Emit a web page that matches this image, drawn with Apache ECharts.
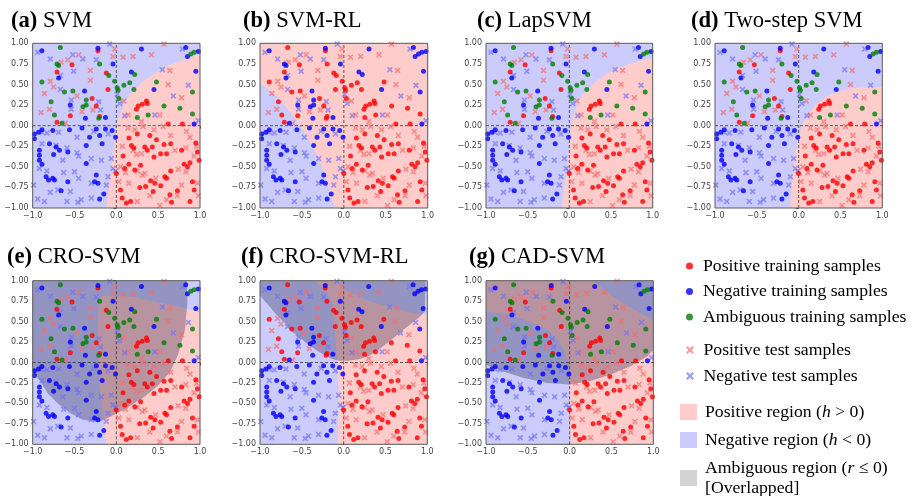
<!DOCTYPE html>
<html>
<head>
<meta charset="utf-8">
<script src="https://cdn.jsdelivr.net/npm/echarts@6/dist/echarts.min.js"></script>
<style>
  html, body { margin: 0; padding: 0; background: #fff; }
  #chart { width: 918px; height: 496px; }
</style>
</head>
<body>
<div id="chart"></div>
<script>
// ---- data (same sample set in every panel) ----
const panelTags = ['(a)', '(b)', '(c)', '(d)', '(e)', '(f)', '(g)'];
const panelNames = ['SVM', 'SVM-RL', 'LapSVM', 'Two-step SVM', 'CRO-SVM', 'CRO-SVM-RL', 'CAD-SVM'];

const posTrain = [
  [-0.22, 0.91], [-0.53, 0.74], [-0.71, 0.65], [-0.12, 0.64], [-0.10, 0.44], [-0.29, 0.33],
  [-0.24, 0.24], [-0.55, 0.12], [-0.20, 0.11], [0.26, 0.24], [0.31, 0.26], [0.36, 0.30], [0.37, 0.27],
  [0.24, 0.20], [-0.71, 0.04], [0.79, 0.02], [0.62, 0.02],
  [0.18, -0.24], [0.21, -0.27], [0.34, -0.26], [0.37, -0.30], [0.43, -0.26], [0.48, -0.17],
  [0.57, -0.23], [0.60, -0.34], [0.65, -0.22], [0.78, -0.30], [0.95, -0.21], [0.97, -0.32],
  [0.88, -0.45], [0.45, -0.38], [0.53, -0.34], [0.08, -0.37], [0.00, -0.58], [0.10, -0.52],
  [0.15, -0.47], [0.22, -0.54], [0.29, -0.48], [0.41, -0.67], [0.46, -0.70], [0.58, -0.62],
  [0.60, -0.64], [0.65, -0.55], [0.81, -0.47], [0.85, -0.50], [0.99, -0.42], [0.93, -0.78],
  [0.88, -0.92], [0.07, -0.88], [0.12, -0.94], [0.17, -0.92], [0.35, -0.74], [0.44, -0.80],
  [0.53, -0.73], [0.64, -0.84], [0.73, -0.79], [0.28, -0.75], [0.05, -0.78], [0.66, -0.93],
  [0.91, -0.68], [0.25, -0.10], [0.15, -0.15], [0.40, -0.12]
];
const negTrain = [
  [-0.89, 0.91], [-0.22, 0.94], [0.30, 0.93], [0.83, 0.95], [0.85, 0.84], [0.98, 0.90],
  [-0.04, 0.75], [-0.69, 0.58], [0.18, 0.65], [0.45, 0.44], [0.95, 0.66], [-0.38, 0.42],
  [-0.55, 0.25], [-0.37, 0.09], [-0.13, 0.10], [0.93, 0.02],
  [-0.98, -0.10], [-0.98, -0.16], [-0.93, -0.08], [-0.89, -0.05], [-0.76, -0.06], [-0.80, -0.22],
  [-0.92, -0.30], [-0.92, -0.36], [-0.92, -0.42], [-0.89, -0.47], [-0.72, -0.26], [-0.68, -0.30],
  [-0.75, -0.35], [-0.58, -0.32], [-0.41, -0.03], [-0.32, -0.14], [-0.36, -0.24], [-0.20, -0.12],
  [-0.17, -0.22], [-0.13, -0.04], [-0.36, -0.46], [-0.84, -0.62], [-0.81, -0.66], [-0.76, -0.64],
  [-0.74, -0.66], [-0.66, -0.79], [-0.58, -0.68], [-0.24, -0.60], [-0.26, -0.68], [-0.22, -0.70],
  [-0.15, -0.83], [-0.20, -0.89], [-0.01, -0.14], [-0.05, -0.06], [-0.56, -0.05], [-0.24, -0.04]
];
const ambTrain = [
  [-0.67, 0.95], [-0.71, 0.75], [-0.69, 0.73], [-0.20, 0.75], [-0.89, 0.53],
  [-0.62, 0.41], [-0.52, 0.42], [-0.09, 0.61], [-0.02, 0.54], [0.01, 0.46],
  [0.02, 0.43], [0.09, 0.49], [0.22, 0.62], [0.16, 0.52], [0.21, 0.44],
  [0.48, 0.53], [0.91, 0.41], [-0.78, 0.29], [-0.74, 0.13], [-0.40, 0.23],
  [-0.36, 0.25], [-0.36, 0.31], [-0.21, 0.09], [0.38, 0.13], [0.25, 0.10],
  [0.57, 0.24], [0.76, 0.21], [0.91, 0.14], [-0.65, 0.03], [0.89, 0.87],
  [0.93, 0.89], [0.03, 0.33]
];
// labels given to the ambiguous samples by the relabelling (RL) variants: 1 = positive
const ambRelabel = [1, 0, 0, 1, 1, 1, 1, 1, 1, 1, 1, 1, 0, 1, 1, 1, 0, 1, 1, 0, 0, 0, 1, 1, 1, 1, 1, 1, 0, 0, 0, 1];
const posTest = [
  [-0.02, 0.93], [0.42, 0.86], [0.57, 0.99], [-0.66, 0.77], [-0.58, 0.80], [-0.04, 0.84],
  [0.08, 0.83], [0.20, 0.84], [-0.79, 0.54], [-0.75, 0.47], [-0.31, 0.67], [-0.31, 0.55],
  [0.64, 0.67], [0.78, 0.34], [-0.86, 0.39], [-0.80, 0.20], [-0.41, 0.17], [0.09, 0.30],
  [0.14, 0.13], [0.52, 0.13], [-0.61, 0.03], [-0.47, 0.36], [-0.90, 0.16], [-0.45, 0.86],
  [0.62, 0.50], [0.30, 0.05], [-0.28, 0.19],
  [0.14, -0.03], [0.22, -0.05], [0.32, -0.01], [0.45, -0.05], [0.56, -0.01], [0.84, -0.07],
  [0.07, -0.25], [0.20, -0.30], [0.24, -0.35], [0.30, -0.34], [0.70, -0.30], [0.83, -0.27],
  [0.96, -0.25], [0.93, -0.37], [0.05, -0.50], [0.11, -0.57], [0.25, -0.55], [0.31, -0.60],
  [0.47, -0.64], [0.74, -0.53], [0.83, -0.56], [0.78, -0.72], [0.73, -0.85], [0.97, -0.70],
  [0.52, -0.97], [0.25, -0.92], [0.34, -0.58], [0.40, -0.85], [0.60, -0.90], [0.03, -0.68],
  [0.15, -0.70], [0.88, -0.14], [0.65, -0.12], [0.98, -0.85]
];
const negTest = [
  [-0.94, 0.89], [-0.08, 0.99], [0.79, 0.93], [-0.79, 0.81], [-0.52, 0.86], [-0.40, 0.81],
  [-0.24, 0.80], [-0.67, 0.61], [-0.51, 0.66], [-0.67, 0.44], [0.55, 0.68], [0.86, 0.49],
  [0.68, 0.36], [-0.54, 0.31], [-0.54, 0.20], [-0.21, 0.29], [-0.19, 0.19], [0.04, 0.27],
  [0.10, 0.12], [0.46, 0.13], [0.98, 0.06], [0.01, 0.38],
  [-0.89, -0.08], [-0.83, -0.09], [-0.69, -0.08], [-0.47, -0.14], [-0.27, -0.07],
  [-0.10, -0.10], [-0.89, -0.22], [-0.72, -0.24], [-0.59, -0.27], [-0.47, -0.33], [-0.45, -0.37],
  [-0.30, -0.40], [-0.18, -0.42], [-0.06, -0.40], [-0.92, -0.52], [-0.83, -0.55], [-0.63, -0.57],
  [-0.50, -0.56], [-0.45, -0.64], [-0.30, -0.70], [-0.12, -0.72], [-0.04, -0.52], [-0.01, -0.55],
  [-0.99, -0.72], [-0.79, -0.81], [-0.70, -0.78], [-0.94, -0.89], [-0.86, -0.92], [-0.59, -0.92],
  [-0.46, -0.93], [-0.42, -0.90], [-0.30, -0.88], [-0.10, -0.62], [-0.64, -0.42], [-0.55, -0.80]
];

// decision regions (boundary vertices in data units)
const fullSquare = [[-1, -1], [1, -1], [1, 1], [-1, 1]];
const posRegionA = [[-0.12, -1], [-0.09, -0.75], [-0.06, -0.5], [-0.03, -0.25], [0, 0], [0.05, 0.15], [0.12, 0.31],
  [0.2, 0.42], [0.3, 0.52], [0.45, 0.63], [0.6, 0.72], [0.72, 0.77], [0.85, 0.82], [1, 0.87], [1, -1]];
const posRegionB = [[-1, 1], [-1, 0.52], [-0.9, 0.44], [-0.8, 0.35], [-0.7, 0.24], [-0.6, 0.11], [-0.5, -0.03],
  [-0.42, -0.17], [-0.35, -0.3], [-0.28, -0.45], [-0.22, -0.6], [-0.16, -0.82], [-0.11, -1], [1, -1], [1, 1]];
const posRegionC = [[-0.09, -1], [-0.06, -0.75], [-0.03, -0.5], [0, -0.25], [0.02, 0], [0.07, 0.19], [0.12, 0.31],
  [0.21, 0.43], [0.35, 0.56], [0.47, 0.64], [0.65, 0.72], [0.81, 0.78], [1, 0.82], [1, -1]];
const posRegionD = [[-0.10, -1], [-0.08, -0.7], [-0.05, -0.37], [0, -0.17], [0.04, 0.01], [0.12, 0.15], [0.22, 0.27],
  [0.33, 0.35], [0.45, 0.41], [0.61, 0.45], [0.8, 0.465], [1, 0.47], [1, -1]];
const posRegionE = [[-0.12, -1], [-0.15, -0.72], [-0.2, -0.27], [-0.22, 0.13], [-0.22, 0.54], [-0.21, 0.74],
  [-0.17, 0.81], [-0.04, 0.82], [0.2, 0.8], [0.48, 0.74], [0.72, 0.69], [1, 0.61], [1, -1]];
const posRegionF = [[-0.07, -1], [-0.06, -0.27], [-0.08, 0.01], [-0.1, 0.34], [-0.12, 0.54], [-0.14, 0.74],
  [-0.2, 0.86], [-0.3, 0.95], [-0.36, 1], [-0.04, 1], [-0.02, 0.95], [0.02, 0.89], [0.18, 0.8], [0.33, 0.74],
  [0.57, 0.68], [0.81, 0.61], [1, 0.58], [1, -1]];
const posRegionG = [[-1, 1], [0.28, 1], [0.4, 0.9], [0.56, 0.78], [0.72, 0.68], [0.88, 0.58], [1, 0.53], [1, -1],
  [0.01, -1], [0, -0.1], [-0.02, 0.01], [-0.06, 0.13], [-0.12, 0.25], [-0.24, 0.38], [-0.43, 0.48],
  [-0.71, 0.58], [-1, 0.62]];
const ambRegionE = [[-1, 1], [0.84, 1], [0.85, 0.74], [0.82, 0.4], [0.74, 0.1], [0.64, -0.12], [0.5, -0.28],
  [0.32, -0.43], [0.12, -0.56], [-0.1, -0.68], [-0.22, -0.73], [-0.4, -0.7], [-0.55, -0.62], [-0.7, -0.5],
  [-0.82, -0.38], [-0.91, -0.23], [-1, -0.11]];
const ambRegionF = [[-1, 1], [-1, 0.82], [-0.9, 0.7], [-0.8, 0.58], [-0.7, 0.48], [-0.62, 0.38], [-0.45, 0.24],
  [-0.3, 0.13], [-0.15, 0.05], [-0.06, 0.02], [0.05, 0.02], [0.18, 0.04], [0.3, 0.08], [0.41, 0.15],
  [0.55, 0.26], [0.69, 0.38], [0.8, 0.47], [0.89, 0.54], [0.97, 0.62], [0.98, 1]];
const ambRegionG = [[-1, 1], [-1, -0.03], [-0.9, -0.07], [-0.79, -0.11], [-0.55, -0.19], [-0.27, -0.25],
  [0, -0.27], [0.24, -0.23], [0.48, -0.15], [0.72, -0.05], [0.92, 0.07], [1, 0.15], [1, 1]];

const posRegions = [posRegionA, posRegionB, posRegionC, posRegionD, posRegionE, posRegionF, posRegionG];
const ambRegions = [null, null, null, null, ambRegionE, ambRegionF, ambRegionG];
const relabelled = [false, true, false, false, false, true, false];

// ---- layout ----
const gridRects = [
  [32.7, 43.3, 167.3, 164.7], [260, 43.3, 167.7, 164.7], [486, 43.3, 166.7, 164.7], [715, 43.3, 167.3, 164.7],
  [32.7, 280.7, 167.3, 163.6], [260, 280.7, 167.3, 163.6], [486, 280.7, 167.3, 163.6]
];
const titlePos = [[11, 10], [243, 10], [477, 10], [691, 10], [7, 246], [241, 246], [469, 246]];

const C = {
  negRegion: '#ccccfc', posRegion: '#ffcccc', overlap: 'rgba(20,20,60,0.3)', ambLegend: '#d3d3d3',
  pos: '#ff0000', neg: '#0000ff', amb: '#008000', posTest: 'rgba(242,110,110,0.85)', negTest: 'rgba(115,115,242,0.85)'
};
const xMark = 'path://M0,2L2,0L5,3L8,0L10,2L7,5L10,8L8,10L5,7L2,10L0,8L3,5Z';
const serif = 'Liberation Serif';
const sans = 'DejaVu Sans';
const titleSize = 22.6;
const legendSize = 17.7;

const NAMES = {
  pos: 'Positive training samples', neg: 'Negative training samples', amb: 'Ambiguous training samples',
  posT: 'Positive test samples', negT: 'Negative test samples',
  posR: 'Positive region', negR: 'Negative region', ambR: 'Ambiguous region'
};

function regionSeries(i, poly, color, name, z) {
  return {
    type: 'custom', name: name, xAxisIndex: i, yAxisIndex: i, z: z, silent: true,
    itemStyle: { color: color },
    data: poly,
    renderItem: function (params, api) {
      if (params.dataIndex !== 0) return null;
      return {
        type: 'polygon',
        shape: { points: poly.map(p => api.coord(p)) },
        style: { fill: color }
      };
    }
  };
}

function dots(i, name, data, color, z) {
  return {
    type: 'scatter', name: name, xAxisIndex: i, yAxisIndex: i, z: z, silent: true,
    symbol: 'circle', symbolSize: 5, itemStyle: { color: color }, data: data
  };
}

function crosses(i, name, data, color) {
  return {
    type: 'scatter', name: name, xAxisIndex: i, yAxisIndex: i, z: 3, silent: true,
    symbol: xMark, symbolSize: 6, itemStyle: { color: color }, data: data
  };
}

const grids = [], xAxes = [], yAxes = [], series = [], titles = [];
for (let i = 0; i < 7; i++) {
  const r = gridRects[i];
  grids.push({
    left: r[0], top: r[1], width: r[2], height: r[3], show: true, z: 10,
    backgroundColor: 'transparent', borderColor: '#5a5a5a', borderWidth: 1
  });
  xAxes.push({
    gridIndex: i, type: 'value', min: -1, max: 1, interval: 0.5,
    axisLine: { show: false }, splitLine: { show: false },
    axisTick: { show: true, length: 3, lineStyle: { color: '#444' } },
    axisLabel: {
      fontFamily: sans, fontSize: 8, color: '#444', margin: 4,
      formatter: v => (v < 0 ? '\u2212' : '') + Math.abs(v).toFixed(1)
    }
  });
  yAxes.push({
    gridIndex: i, type: 'value', min: -1, max: 1, interval: 0.25,
    axisLine: { show: false }, splitLine: { show: false },
    axisTick: { show: true, length: 3, lineStyle: { color: '#444' } },
    axisLabel: {
      fontFamily: sans, fontSize: 8, color: '#444', margin: 4,
      formatter: v => (v < 0 ? '\u2212' : '') + Math.abs(v).toFixed(2)
    }
  });
  titles.push({
    text: '{b|' + panelTags[i] + '} {n|' + panelNames[i] + '}',
    left: titlePos[i][0], top: titlePos[i][1], padding: 0,
    textStyle: {
      fontFamily: serif, fontSize: titleSize, fontWeight: 'normal', color: '#000',
      rich: {
        b: { fontFamily: serif, fontSize: titleSize, fontWeight: 'bold', color: '#000' },
        n: { fontFamily: serif, fontSize: titleSize, fontWeight: 'normal', color: '#000' }
      }
    }
  });

  series.push(regionSeries(i, fullSquare, C.negRegion, NAMES.negR, 1));
  series.push(regionSeries(i, posRegions[i], C.posRegion, NAMES.posR, 1));
  if (ambRegions[i]) series.push(regionSeries(i, ambRegions[i], C.overlap, NAMES.ambR, 1));

  // dashed reference lines at x = 0 and y = 0
  series.push({
    type: 'line', xAxisIndex: i, yAxisIndex: i, z: 2, silent: true, symbol: 'none',
    lineStyle: { color: '#333', width: 0.8, type: [3, 2] }, data: [[-1, 0], [1, 0]]
  });
  series.push({
    type: 'line', xAxisIndex: i, yAxisIndex: i, z: 2, silent: true, symbol: 'none',
    lineStyle: { color: '#333', width: 0.8, type: [3, 2] }, data: [[0, -1], [0, 1]]
  });

  series.push(crosses(i, NAMES.posT, posTest, C.posTest));
  series.push(crosses(i, NAMES.negT, negTest, C.negTest));
  series.push(dots(i, NAMES.pos, posTrain, C.pos, 4));
  series.push(dots(i, NAMES.neg, negTrain, C.neg, 4));
  if (relabelled[i]) {
    series.push(dots(i, NAMES.pos, ambTrain.filter((p, k) => ambRelabel[k] === 1), C.pos, 4));
    series.push(dots(i, NAMES.neg, ambTrain.filter((p, k) => ambRelabel[k] === 0), C.neg, 4));
  } else {
    series.push(dots(i, NAMES.amb, ambTrain, C.amb, 4));
  }
}

const legendText = {
  fontFamily: serif, fontSize: legendSize, color: '#000', lineHeight: 20,
  rich: {
    s: { width: 3 },
    t: { fontFamily: serif, fontSize: legendSize, color: '#000', lineHeight: 20 },
    i: { fontFamily: serif, fontSize: legendSize, color: '#000', fontStyle: 'italic', lineHeight: 20 }
  }
};
const legendLabels = {};
legendLabels[NAMES.posR] = '{s|}{t|Positive region (}{i|h}{t| > 0)}';
legendLabels[NAMES.negR] = '{s|}{t|Negative region (}{i|h}{t| < 0)}';
legendLabels[NAMES.ambR] = '{s|}{t|Ambiguous region (}{i|r}{t| \u2264 0)}\n{s|}{t|[Overlapped]}';

function legend(left, top, gap, iconH, data) {
  return {
    orient: 'vertical', left: left, top: top, itemGap: gap, itemWidth: 17, itemHeight: iconH,
    padding: 0, selectedMode: false, textStyle: legendText, data: data,
    formatter: name => legendLabels[name] || name
  };
}

const option = {
  animation: false,
  backgroundColor: '#fff',
  title: titles,
  grid: grids,
  xAxis: xAxes,
  yAxis: yAxes,
  legend: [
    legend(686, 256, 5.5, 7, [
      { name: NAMES.pos, icon: 'circle', itemStyle: { color: C.pos } },
      { name: NAMES.neg, icon: 'circle', itemStyle: { color: C.neg } },
      { name: NAMES.amb, icon: 'circle', itemStyle: { color: C.amb } }
    ]),
    legend(686, 340, 6, 8, [
      { name: NAMES.posT, icon: xMark, itemStyle: { color: C.posTest } },
      { name: NAMES.negT, icon: xMark, itemStyle: { color: C.negTest } }
    ]),
    legend(680, 402, 8, 16, [
      { name: NAMES.posR, icon: 'rect', itemStyle: { color: C.posRegion } },
      { name: NAMES.negR, icon: 'rect', itemStyle: { color: C.negRegion } }
    ]),
    legend(680, 458, 0, 16, [
      { name: NAMES.ambR, icon: 'rect', itemStyle: { color: C.ambLegend } }
    ])
  ],
  series: series
};

const chart = echarts.init(document.getElementById('chart'));
chart.setOption(option);
</script>
</body>
</html>
